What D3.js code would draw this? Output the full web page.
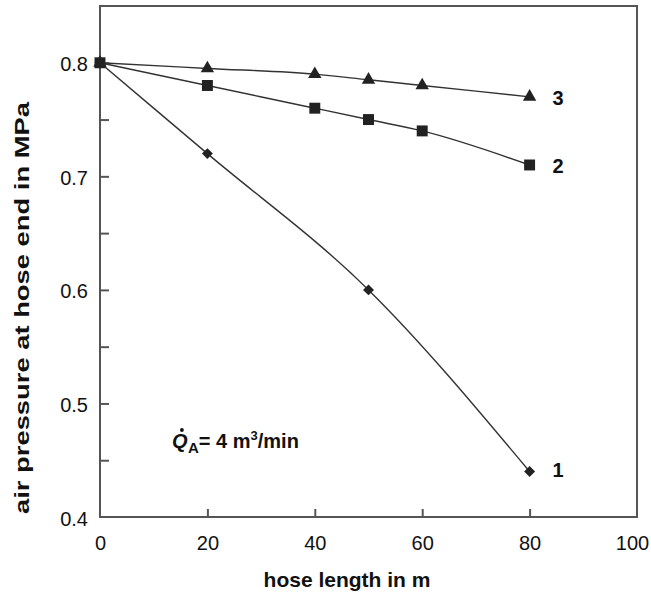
<!DOCTYPE html>
<html>
<head>
<meta charset="utf-8">
<script src="https://cdn.jsdelivr.net/npm/d3@7"></script>
<style>
  body { margin: 0; background: #fff; }
  svg { display: block; font-family: "Liberation Sans", Arial, Helvetica, sans-serif; }
</style>
</head>
<body>
<svg id="chart" width="651" height="600"></svg>
<script>
// Hose length (m) for each measured point
const lengths1 = [0, 20, 50, 80];
const lengths23 = [0, 20, 40, 50, 60, 80];
// Air pressure at the hose end (MPa)
const pressure1 = [0.80, 0.72, 0.60, 0.44];
const pressure2 = [0.80, 0.78, 0.76, 0.75, 0.74, 0.71];
const pressure3 = [0.80, 0.795, 0.79, 0.785, 0.78, 0.77];
const curveLabels = ["1", "2", "3"];
const xTicks = [0, 20, 40, 60, 80, 100];
const yTicks = [0.4, 0.5, 0.6, 0.7, 0.8];
const yMinorTicks = [0.45, 0.5, 0.55, 0.6, 0.65, 0.7, 0.75, 0.8];

const svg = d3.select("#chart");
const plotLeft = 100, plotRight = 637, plotTop = 6, plotBottom = 517;

const x = d3.scaleLinear().domain([0, 100]).range([plotLeft, plotRight]);
const y = d3.scaleLinear().domain([0.4, 0.85]).range([plotBottom, plotTop]);

const ink = "#222";
const axisColor = "#555";
const fontFamily = "Liberation Sans, Arial, sans-serif";

// frame
svg.append("rect")
  .attr("x", plotLeft).attr("y", plotTop)
  .attr("width", plotRight - plotLeft).attr("height", plotBottom - plotTop)
  .attr("fill", "none").attr("stroke", axisColor).attr("stroke-width", 2);

// x axis: inward ticks
const xAxis = svg.append("g").attr("transform", `translate(0,${plotBottom})`)
  .call(d3.axisBottom(x).tickValues(xTicks).tickSize(-8).tickPadding(19).tickFormat(d3.format("d")));
xAxis.select(".domain").remove();
xAxis.selectAll(".tick line").attr("stroke", axisColor).attr("stroke-width", 2)
  .filter(d => d === 0 || d === 100).remove();
xAxis.selectAll(".tick text").attr("font-size", 20).attr("fill", "#111")
  .attr("font-family", fontFamily);
// keep the last label inside the page edge
xAxis.selectAll(".tick text").filter(d => d === 100).attr("dx", -5);

// y axis: inward minor ticks every 0.05, labels every 0.1
const yMinor = svg.append("g").attr("transform", `translate(${plotLeft},0)`)
  .call(d3.axisLeft(y).tickValues(yMinorTicks).tickSize(-9).tickFormat(""));
yMinor.select(".domain").remove();
yMinor.selectAll(".tick line").attr("stroke", axisColor).attr("stroke-width", 2);

const yAxis = svg.append("g").attr("transform", `translate(${plotLeft},0)`)
  .call(d3.axisLeft(y).tickValues(yTicks).tickSize(0).tickPadding(12).tickFormat(d3.format(".1f")));
yAxis.select(".domain").remove();
yAxis.selectAll(".tick text").attr("font-size", 20).attr("fill", "#111")
  .attr("font-family", fontFamily).attr("dy", "0.4em");

// axis titles
svg.append("text")
  .attr("x", 347).attr("y", 587)
  .attr("text-anchor", "middle").attr("font-size", 21).attr("font-weight", "bold")
  .attr("fill", "#111")
  .text("hose length in m");

svg.append("text")
  .attr("transform", `translate(29,308) rotate(-90)`)
  .attr("text-anchor", "middle").attr("font-size", 21).attr("font-weight", "bold")
  .attr("textLength", 412).attr("lengthAdjust", "spacingAndGlyphs")
  .attr("fill", "#111")
  .text("air pressure at hose end in MPa");

// curves
const line = d3.line().x(d => x(d[0])).y(d => y(d[1])).curve(d3.curveMonotoneX);
const series = [
  { xs: lengths1, ys: pressure1, symbol: d3.symbolSquare, size: 60, rotate: 45, label: curveLabels[0], dy: 5 },
  { xs: lengths23, ys: pressure2, symbol: d3.symbolSquare, size: 120, rotate: 0, label: curveLabels[1], dy: 8 },
  { xs: lengths23, ys: pressure3, symbol: d3.symbolTriangle, size: 78, rotate: 0, label: curveLabels[2], dy: 8 }
];

series.forEach(s => {
  const pts = s.xs.map((v, i) => [v, s.ys[i]]);
  svg.append("path")
    .attr("d", line(pts))
    .attr("fill", "none").attr("stroke", "#333").attr("stroke-width", 1.4);
  svg.append("g").selectAll("path")
    .data(pts).join("path")
    .attr("transform", d => `translate(${x(d[0])},${y(d[1])}) rotate(${s.rotate})`)
    .attr("d", d3.symbol().type(s.symbol).size(s.size))
    .attr("fill", ink);
  const last = pts[pts.length - 1];
  svg.append("text")
    .attr("x", x(last[0]) + 23).attr("y", y(last[1]) + s.dy)
    .attr("font-size", 20).attr("font-weight", "bold").attr("fill", "#111")
    .text(s.label);
});

// flow rate annotation: Q-dot with subscript A
const annX = 172, annY = 448;
const qText = svg.append("text")
  .attr("x", annX).attr("y", annY)
  .attr("font-size", 20).attr("font-weight", "bold").attr("font-style", "italic")
  .attr("fill", "#111")
  .text("Q");
const qBox = qText.node().getBBox();
svg.append("circle")
  .attr("cx", qBox.x + qBox.width * 0.62).attr("cy", annY - 18)
  .attr("r", 1.9).attr("fill", "#111");
const ann = svg.append("text")
  .attr("x", qBox.x + qBox.width).attr("y", annY)
  .attr("font-size", 20).attr("font-weight", "bold").attr("fill", "#111");
ann.append("tspan").attr("dy", 5).attr("font-size", 15).text("A");
ann.append("tspan").attr("dy", -5).text("= 4 m");
ann.append("tspan").attr("dy", -8).attr("font-size", 13).text("3");
ann.append("tspan").attr("dy", 8).text("/min");
</script>
</body>
</html>
